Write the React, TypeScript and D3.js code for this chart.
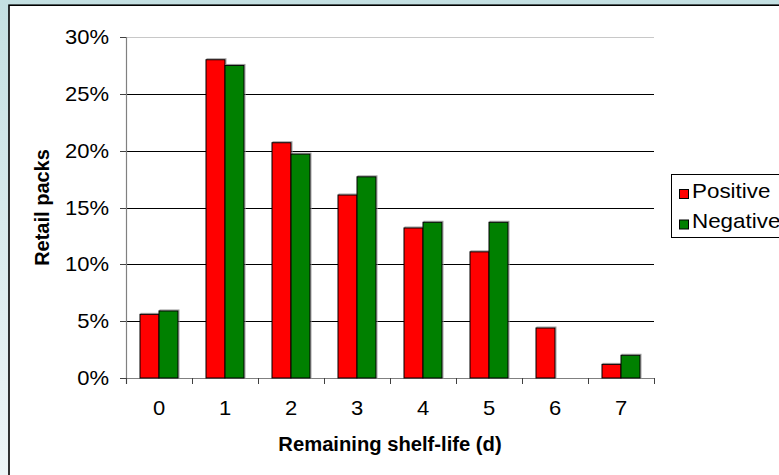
import React from "react";
import * as d3 from "d3";

const categories = ["0", "1", "2", "3", "4", "5", "6", "7"];
const seriesNames = ["Positive", "Negative"];
const positive = [5.6, 28.0, 20.7, 16.1, 13.2, 11.1, 4.4, 1.2];
const negative = [5.9, 27.5, 19.7, 17.7, 13.7, 13.7, 0, 2.0];
const yTicks = [0, 5, 10, 15, 20, 25, 30];
const colors = ["#ff0000", "#008000"];

const W = 779;
const H = 475;
const left = 126, right = 654, top = 37, bottom = 378;
const FONT = "'Liberation Sans', Arial, sans-serif";

function T(props: { x: number; y: number; anchor?: string; sx?: number; size?: number; bold?: boolean; children: React.ReactNode }) {
  const { x, y, anchor = "start", sx = 1.1, size = 20, bold = false, children } = props;
  return (
    <text transform={`translate(${x},${y}) scale(${sx},1)`} textAnchor={anchor} fontFamily={FONT}
      fontSize={size} fontWeight={bold ? "bold" : "normal"} fill="#000">{children}</text>
  );
}

export default function App() {
  const x0 = d3.scaleBand<string>().domain(categories).range([left, right]).paddingInner(28 / 66).paddingOuter(14 / 66);
  const x1 = d3.scaleBand<string>().domain(seriesNames).range([0, x0.bandwidth()]);
  const y = d3.scaleLinear().domain([0, 30]).range([bottom, top]);
  const series = [positive, negative];
  const step = x0.step();
  const boundaries = d3.range(categories.length + 1).map((i) => left + i * step);

  return (
    <svg width={W} height={H} style={{ position: "absolute", left: 0, top: 0 }}>
      <defs>
        <linearGradient id="bg" x1="0" y1="0" x2="0" y2="1">
          <stop offset="0" stopColor="#c4e0e2" />
          <stop offset="1" stopColor="#eef5f7" />
        </linearGradient>
      </defs>
      <rect x={0} y={0} width={W} height={H} fill="url(#bg)" />
      <rect x={9} y={5.2} width={W + 20} height={H + 20} fill="#ffffff" stroke="#000" strokeWidth={1.6} />

      {yTicks.map((t) => (
        <line key={"g" + t} x1={left} x2={right} y1={Math.round(y(t)) + 0.5} y2={Math.round(y(t)) + 0.5}
          stroke={t === 30 ? "#c8c8c8" : t === 0 ? "#808080" : "#000"} strokeWidth={1} />
      ))}
      <line x1={left + 0.5} x2={left + 0.5} y1={top} y2={bottom + 6} stroke="#808080" strokeWidth={1.2} />
      {yTicks.map((t) => (
        <g key={"yt" + t}>
          <line x1={left - 6} x2={left} y1={Math.round(y(t)) + 0.5} y2={Math.round(y(t)) + 0.5} stroke="#404040" />
          <T x={109} y={y(t) + 7} anchor="end">{t + "%"}</T>
        </g>
      ))}
      {boundaries.map((b, i) => (
        <line key={"xt" + i} x1={Math.round(b) + 0.5} x2={Math.round(b) + 0.5} y1={bottom} y2={bottom + 6} stroke="#404040" />
      ))}
      {categories.map((c) => (
        <T key={"xl" + c} x={(x0(c) as number) + x0.bandwidth() / 2} y={415} anchor="middle">{c}</T>
      ))}

      {categories.map((c, i) => (
        <g key={"b" + c}>
          {seriesNames.map((s, j) => {
            const v = series[j][i];
            if (!v) return null;
            const bx = (x0(c) as number) + (x1(s) as number);
            return (
              <g key={s}>
                <rect x={bx + 1} y={y(v) - 1} width={x1.bandwidth()} height={y(0) - y(v) + 1}
                  fill="none" stroke="#a0a0a0" strokeWidth={1} />
                <rect x={bx} y={y(v)} width={x1.bandwidth()} height={y(0) - y(v)}
                  fill={colors[j]} stroke="#000" strokeWidth={1} />
              </g>
            );
          })}
        </g>
      ))}

      <T x={(left + right) / 2} y={451} anchor="middle" bold sx={1.01}>Remaining shelf-life (d)</T>
      <text transform={`translate(49, ${(top + bottom) / 2}) rotate(-90)`} textAnchor="middle" fontFamily={FONT} fontSize={20} fontWeight="bold" fill="#000">Retail packs</text>

      <rect x={671.5} y={174.5} width={140} height={63} fill="#fff" stroke="#000" strokeWidth={1} />
      {seriesNames.map((s, j) => (
        <g key={"lg" + s}>
          <rect x={679.5} y={189.5 + j * 30.5} width={9} height={9} fill={colors[j]} stroke="#000" strokeWidth={1} />
          <T x={692} y={197.5 + j * 30.5} sx={1.12}>{s}</T>
        </g>
      ))}
    </svg>
  );
}
